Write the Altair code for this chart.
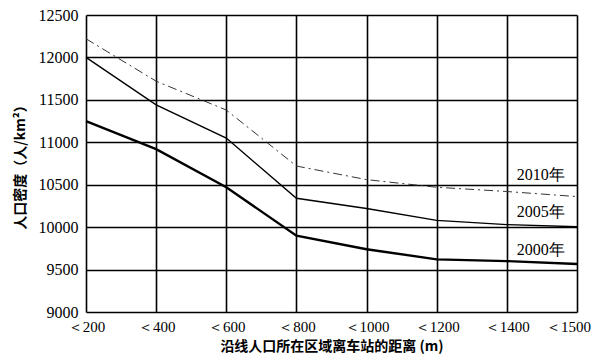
import altair as alt
import pandas as pd

categories = ["＜200", "＜400", "＜600", "＜800", "＜1000", "＜1200", "＜1400", "＜1500"]
s2000 = [11250, 10920, 10470, 9900, 9740, 9620, 9600, 9565]
s2005 = [12000, 11440, 11050, 10340, 10220, 10080, 10030, 10005]
s2010 = [12220, 11720, 11380, 10720, 10560, 10470, 10420, 10360]
series_names = ["2000年", "2005年", "2010年"]
y_ticks = [9000, 9500, 10000, 10500, 11000, 11500, 12000, 12500]

rows = []
for name, vals in zip(series_names, [s2000, s2005, s2010]):
    for c, v in zip(categories, vals):
        rows.append({"dist": c, "density": v, "series": name})
df = pd.DataFrame(rows)

label_df = pd.DataFrame({
    "dist": ["＜1400", "＜1400", "＜1400"],
    "density": [9735, 10178, 10610],
    "label": ["2000年", "2005年", "2010年"],
})

SERIF = "Liberation Serif"

xscale = alt.Scale(type="point", padding=0, domain=categories)
yscale = alt.Scale(domain=[9000, 12500], nice=False)

base = alt.Chart(df).encode(
    x=alt.X("dist:O", scale=xscale, sort=categories,
            axis=alt.Axis(title="沿线人口所在区域离车站的距离 (m)", labelAngle=0,
                          grid=True, gridColor="black", gridWidth=1.6,
                          ticks=False, domain=False, labelPadding=7,
                          labelOffset=alt.condition("datum.value == '＜1500'",
                                                    alt.value(-9), alt.value(0)),
                          labelFont=SERIF, labelFontSize=15, labelColor="black",
                          titleFont="Noto Sans CJK SC", titleFontSize=14, titleFontWeight="bold",
                          titleColor="black", titlePadding=5)),
    y=alt.Y("density:Q", scale=yscale,
            axis=alt.Axis(title="人口密度（人/km²）", values=y_ticks, format="d",
                          grid=True, gridColor="black", gridWidth=1.6,
                          ticks=False, domain=False, labelPadding=8,
                          labelFont=SERIF, labelFontSize=16, labelColor="black",
                          titleFont="Noto Sans CJK SC", titleFontSize=14, titleFontWeight="bold",
                          titleColor="black", titlePadding=11)),
)

l2000 = base.transform_filter(alt.datum.series == "2000年").mark_line(color="black", strokeWidth=2.4)
l2005 = base.transform_filter(alt.datum.series == "2005年").mark_line(color="black", strokeWidth=1.4)
l2010 = base.transform_filter(alt.datum.series == "2010年").mark_line(
    color="#333", strokeWidth=1.0, strokeDash=[9, 4, 2, 4])

labels = alt.Chart(label_df).mark_text(
    font=SERIF, fontSize=16, color="black", dx=34, align="center", baseline="middle"
).encode(
    x=alt.X("dist:O", scale=xscale, sort=categories),
    y=alt.Y("density:Q", scale=yscale),
    text="label:N",
)

chart = alt.layer(l2000, l2005, l2010, labels).properties(
    width=491, height=297,
    autosize=alt.AutoSizeParams(type="none"),
    padding={"left": 78, "top": 7, "right": 15, "bottom": 43},
).configure_view(stroke="black", strokeWidth=2).configure(background="white")

chart.save("out.html", embed_options={"renderer": "svg", "actions": False})
